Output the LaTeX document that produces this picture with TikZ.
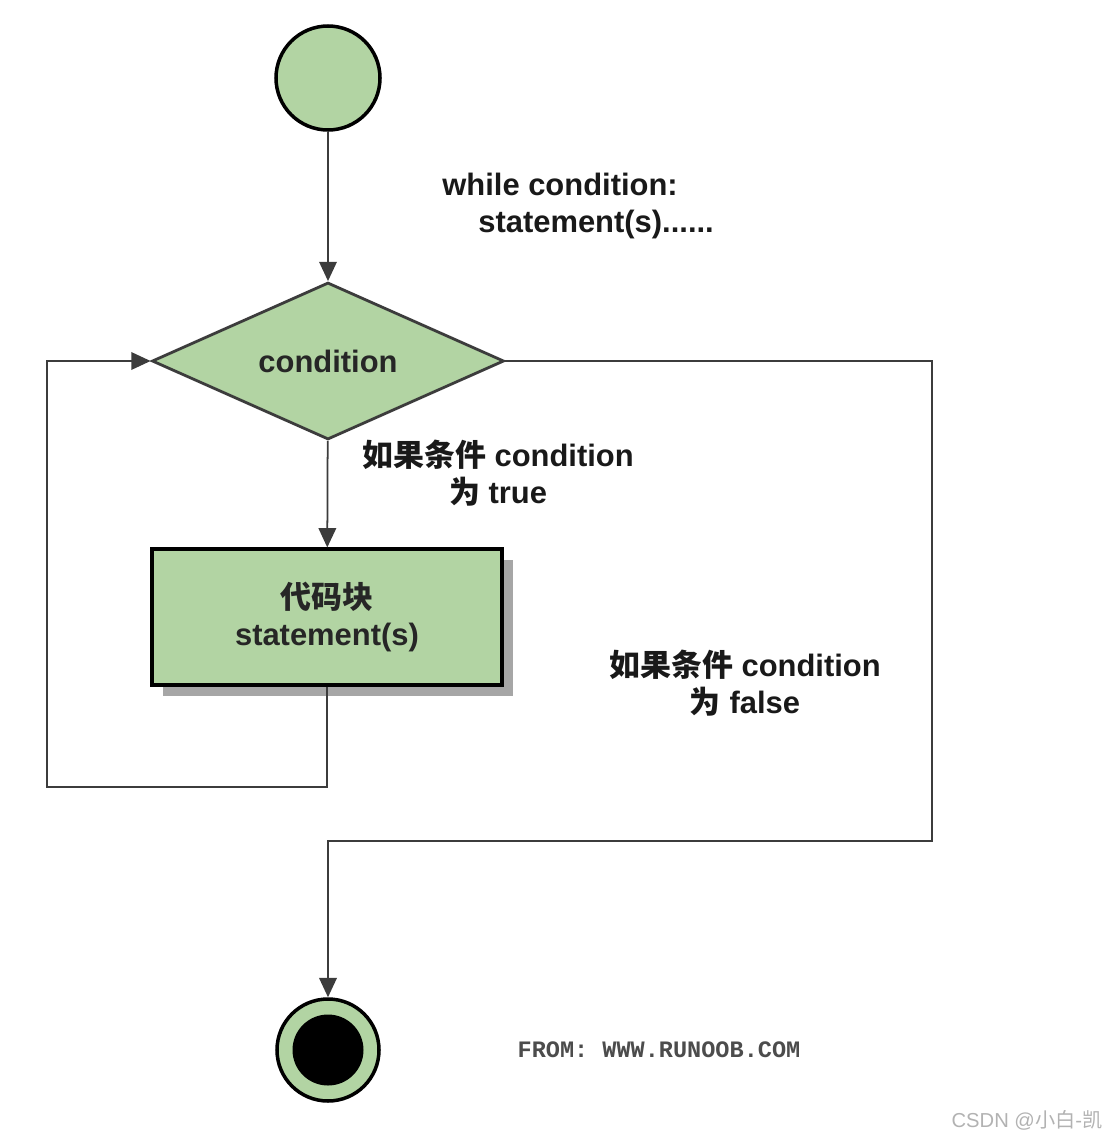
\documentclass[tikz,border=0pt]{standalone}
\usepackage{fontspec}
\setmainfont{Liberation Sans}
\setmonofont{Liberation Mono}
\newfontfamily\cjk{Noto Sans CJK SC}
\definecolor{flowgreen}{HTML}{B2D4A3}
\definecolor{inkgray}{HTML}{3C3C3C}
\usetikzlibrary{calc, positioning, shapes.geometric, arrows.meta, shadows}

\begin{document}
\begin{tikzpicture}[
  startdot/.style={circle, draw=black, fill=flowgreen, line width=2pt,
                   minimum size=2.08cm, inner sep=0pt},
  decision/.style={diamond, draw=inkgray, fill=flowgreen, line width=1.6pt,
                   minimum width=7.04cm, minimum height=3.14cm, aspect=2.24,
                   inner sep=0pt, font=\fontsize{17.6}{21}\selectfont\bfseries,
                   text=black!85},
  codeblock/.style={rectangle, draw=black, fill=flowgreen, line width=1.8pt,
                    minimum width=7.0cm, minimum height=2.72cm, align=center,
                    font=\fontsize{17.6}{21}\selectfont\bfseries, text=black!85,
                    drop shadow={shadow xshift=0.22cm, shadow yshift=-0.22cm,
                                 fill=black!35, opacity=1}},
  flow/.style={draw=inkgray, line width=1pt,
               -{Triangle[length=11pt, width=10pt]}},
  note/.style={font=\fontsize{17.6}{21}\selectfont\bfseries, text=black!90,
               align=center, inner sep=0pt},
]
\useasboundingbox (0,0) rectangle (22.16,-22.8);

% nodes
\node[startdot] (start) at (6.56,-1.56) {};
\node[decision] (cond) at (6.56,-7.22) {condition};
\node[codeblock] (block) at (6.54,-12.34) {{\cjk\bfseries 代码块}\\statement(s)};
\node[startdot, minimum size=2.04cm] (stop) at (6.56,-21.0) {};
\node[circle, fill=black, minimum size=1.42cm, inner sep=0pt] (stopcore) at (stop.center) {};

% corner points
\coordinate (loopcorner) at (0.94,-15.74);
\coordinate (exitcorner) at (18.64,-16.82);

% connectors
\draw[flow] (start) -- (cond);
\draw[flow] (cond) -- (block);
\draw[flow] (block.south) |- (loopcorner) |- (cond.west);
\draw[flow] (cond.east) -| (exitcorner) -| (stop.north);

% texts
\node[note, anchor=north west, align=left] (code) at (8.84,-3.46)
  {while condition:\\\hspace{0.72cm}statement(s)......};
\node[note] (truelabel) at (9.96,-9.46)
  {{\cjk\bfseries 如果条件} condition\\{\cjk\bfseries 为} true};
\node[note] (falselabel) at (14.9,-13.66)
  {{\cjk\bfseries 如果条件} condition\\{\cjk\bfseries 为} false};
\node[font=\ttfamily\bfseries\fontsize{13.4}{15}\selectfont, text=black!70] (source)
  at (13.18,-21.0) {FROM: WWW.RUNOOB.COM};
\node[font=\fontsize{11.5}{14}\selectfont, text=black!30] (mark)
  at (20.54,-22.4) {CSDN @{\cjk 小白}-{\cjk 凯}};
\end{tikzpicture}
\end{document}
